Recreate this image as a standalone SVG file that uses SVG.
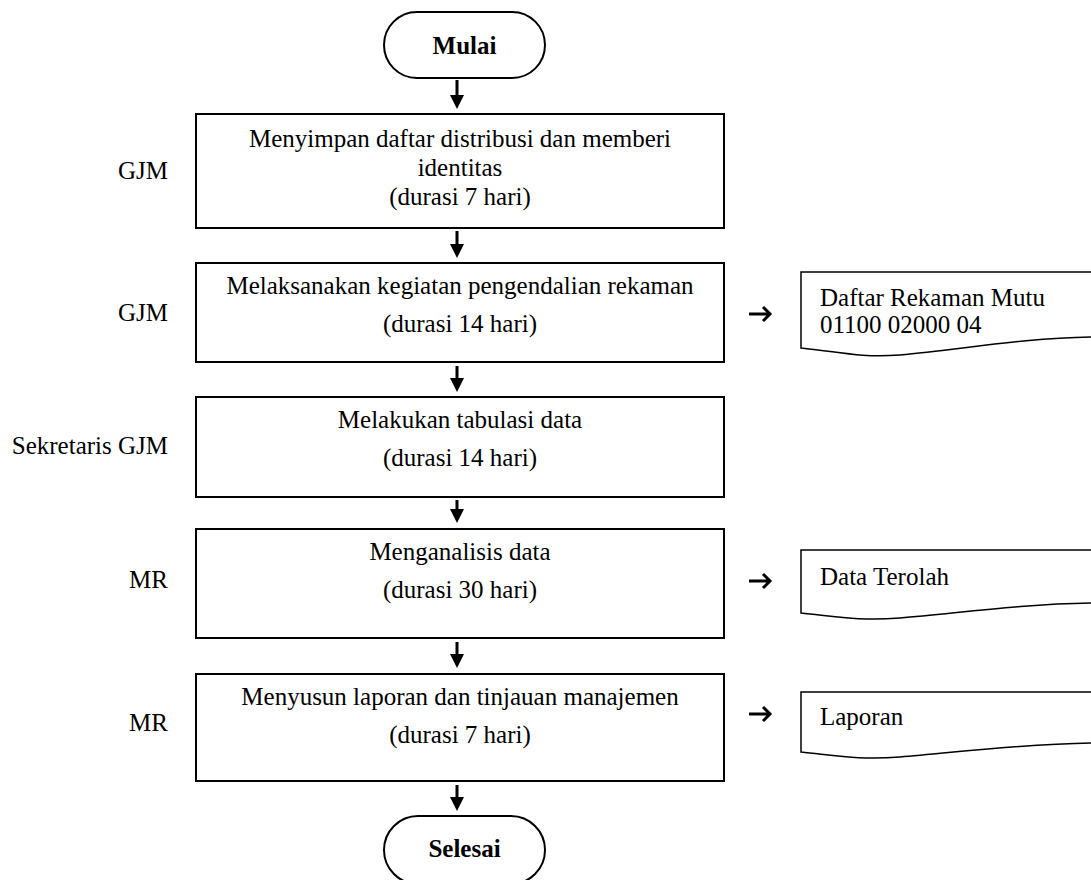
<svg xmlns="http://www.w3.org/2000/svg" width="1091" height="880" viewBox="0 0 1091 880">
<style>
text{font-family:"Liberation Serif","Times New Roman",serif;font-size:25px;fill:#000}
.c{text-anchor:middle}
.r{text-anchor:end}
.b{font-weight:bold}
.box{fill:#fff;stroke:#000;stroke-width:2}
.term{fill:#fff;stroke:#000;stroke-width:2}
.doc{fill:#fff;stroke:#000;stroke-width:1.5}
.shaft{stroke:#000;stroke-width:3;fill:none}
.head{fill:#000}
.sm{stroke:#000;stroke-width:3;fill:none;stroke-linecap:butt;stroke-linejoin:miter}
</style>
<rect width="1091" height="880" fill="#fff"/>

<g id="labels">
<text class="r" x="168" y="179">GJM</text>
<text class="r" x="168" y="321">GJM</text>
<text class="r" x="168" y="454">Sekretaris GJM</text>
<text class="r" x="168" y="588">MR</text>
<text class="r" x="168" y="731">MR</text>
</g>

<g id="start">
<rect class="term" x="384" y="12" width="161" height="66" rx="33" ry="33"/>
<text class="c b" x="464.5" y="54">Mulai</text>
</g>

<g id="step1">
<rect class="box" x="196" y="114" width="528" height="114"/>
<text class="c" x="460" y="147">Menyimpan daftar distribusi dan memberi</text>
<text class="c" x="460" y="176">identitas</text>
<text class="c" x="460" y="205">(durasi 7 hari)</text>
</g>

<g id="step2">
<rect class="box" x="196" y="263" width="528" height="99"/>
<text class="c" x="460" y="294">Melaksanakan kegiatan pengendalian rekaman</text>
<text class="c" x="460" y="332">(durasi 14 hari)</text>
</g>

<g id="step3">
<rect class="box" x="196" y="397" width="528" height="100"/>
<text class="c" x="460" y="428">Melakukan tabulasi data</text>
<text class="c" x="460" y="466">(durasi 14 hari)</text>
</g>

<g id="step4">
<rect class="box" x="196" y="529" width="528" height="109"/>
<text class="c" x="460" y="560">Menganalisis data</text>
<text class="c" x="460" y="598">(durasi 30 hari)</text>
</g>

<g id="step5">
<rect class="box" x="196" y="674" width="528" height="107"/>
<text class="c" x="460" y="705">Menyusun laporan dan tinjauan manajemen</text>
<text class="c" x="460" y="743">(durasi 7 hari)</text>
</g>

<g id="end">
<rect class="term" x="384" y="816" width="161" height="68" rx="34" ry="34"/>
<text class="c b" x="464.5" y="857">Selesai</text>
</g>

<g id="doc1">
<path class="doc" d="M1093,272 L801,272 L801,348 C840,352 860,358 900,355 C960,350 1020,338 1093,337"/>
<text x="820" y="306">Daftar Rekaman Mutu</text>
<text x="820" y="333">01100 02000 04</text>
</g>

<g id="doc2">
<path class="doc" d="M1093,550 L801,550 L801,613 C840,617 860,621 900,618 C960,613 1020,604 1093,603"/>
<text x="820" y="585">Data Terolah</text>
</g>

<g id="doc3">
<path class="doc" d="M1093,692 L801,692 L801,752 C840,756 860,760 900,757 C960,752 1020,744 1093,743"/>
<text x="820" y="725">Laporan</text>
</g>

<g id="connectors">
<line class="shaft" x1="457" y1="80" x2="457" y2="98"/>
<polygon class="head" points="450,95 464,95 457,109"/>
<line class="shaft" x1="457" y1="231" x2="457" y2="247"/>
<polygon class="head" points="450,244 464,244 457,258"/>
<line class="shaft" x1="457" y1="366" x2="457" y2="381"/>
<polygon class="head" points="450,378 464,378 457,392"/>
<line class="shaft" x1="457" y1="500" x2="457" y2="512"/>
<polygon class="head" points="450,509 464,509 457,523"/>
<line class="shaft" x1="457" y1="642" x2="457" y2="657"/>
<polygon class="head" points="450,654 464,654 457,668"/>
<line class="shaft" x1="457" y1="785" x2="457" y2="800"/>
<polygon class="head" points="450,797 464,797 457,811"/>

<path class="sm" d="M749,314 L769,314 M763,307 L770,314 L763,321"/>
<path class="sm" d="M749,581 L769,581 M763,574 L770,581 L763,588"/>
<path class="sm" d="M749,714 L769,714 M763,707 L770,714 L763,721"/>
</g>
</svg>
